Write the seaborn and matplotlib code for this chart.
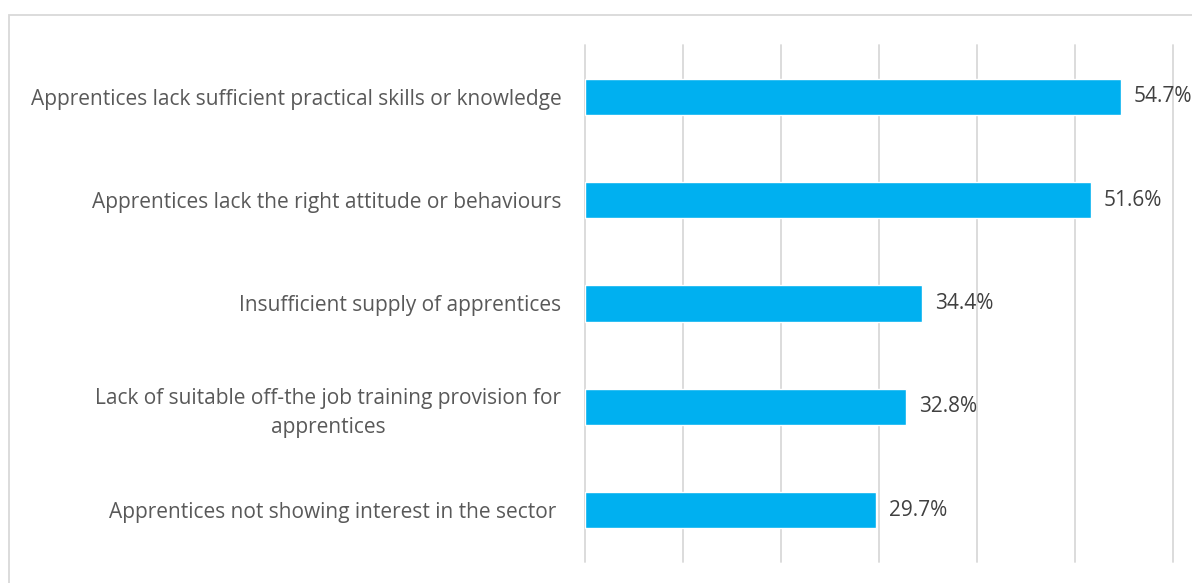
import matplotlib
matplotlib.use("Agg")
import matplotlib.pyplot as plt
import seaborn as sns
import pandas as pd
from matplotlib.patches import Rectangle

categories = [
    "Apprentices lack sufficient practical skills or knowledge",
    "Apprentices lack the right attitude or behaviours",
    "Insufficient supply of apprentices",
    "Lack of suitable off-the job training provision for\napprentices",
    "Apprentices not showing interest in the sector ",
]
values = [54.7, 51.6, 34.4, 32.8, 29.7]
value_labels = ["54.7%", "51.6%", "34.4%", "32.8%", "29.7%"]

df = pd.DataFrame({"category": categories, "value": values})

sns.set_theme(style="white")
plt.rcParams["font.family"] = ["Open Sans", "DejaVu Sans"]

W, H = 1192, 583
fig = plt.figure(figsize=(W / 100, H / 100), dpi=100)
ax = fig.add_axes([585 / W, 1 - 562 / H, (1173 - 585) / W, (562 - 45) / H])

sns.barplot(data=df, x="value", y="category", orient="h", color="#00B0F0",
            saturation=1, width=0.35, ax=ax, zorder=3)

ax.set_xlim(0, 60)
ax.set_ylim(4.5, -0.5)
ax.set_xticks([0, 10, 20, 30, 40, 50, 60])
ax.set_xticklabels([])
ax.tick_params(axis="x", length=0)
ax.tick_params(axis="y", length=0, pad=17, labelsize=15, labelcolor="#595959")
for lab in ax.get_yticklabels():
    lab.set_multialignment("center")
    lab.set_linespacing(1.45)
ax.grid(axis="x", color="#D9D9D9", linewidth=1.3, zorder=0)
for gl in ax.get_xgridlines():
    gl.set_clip_on(False)
ax.grid(axis="y", visible=False)
ax.set_axisbelow(True)
for s in ax.spines.values():
    s.set_visible(False)
ax.set_xlabel("")
ax.set_ylabel("")

for i, (v, t) in enumerate(zip(values, value_labels)):
    ax.annotate(t, xy=(v, i), xytext=(9, 0), textcoords="offset points",
                ha="left", va="center", fontsize=15, color="#404040",
                annotation_clip=False)

fig.patches.append(Rectangle((9 / W, -0.1), 1.2, (H - 15) / H + 0.1,
                             transform=fig.transFigure, fill=False,
                             edgecolor="#D9D9D9", linewidth=1.3))

fig.savefig("out.png", dpi=100)
